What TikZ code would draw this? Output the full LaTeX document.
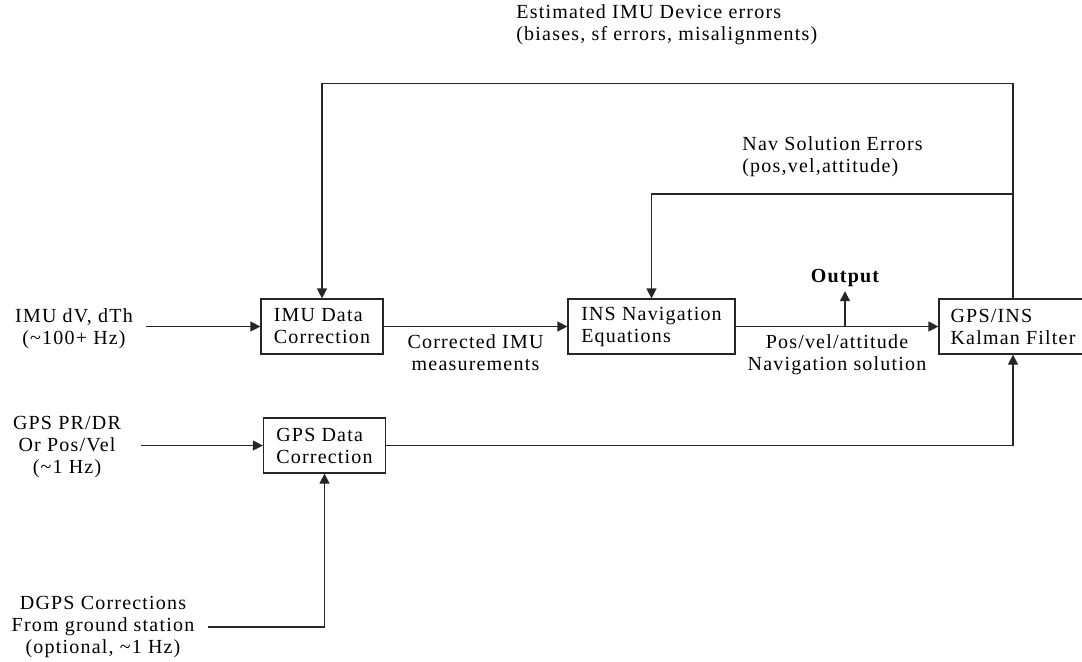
\documentclass[tikz,border=0pt]{standalone}
\usepackage{fontspec}
\setmainfont[LetterSpace=6]{Liberation Serif}
\usetikzlibrary{arrows.meta,positioning}

\begin{document}
\begin{tikzpicture}[x=0.5pt,y=-0.5pt,
  font=\fontsize{10}{11}\selectfont,
  box/.style={draw=black!85,line width=0.6pt,align=left,fill=white,inner sep=0pt,minimum width=61pt,minimum height=27.5pt},
  widebox/.style={box,minimum width=83.5pt},
  lbl/.style={align=center,inner ysep=0pt,inner xsep=6.5pt},
  arrow/.style={-{Triangle[length=5pt,width=5pt]},line width=0.6pt,draw=black!85}
]
\useasboundingbox (0,0) rectangle (1082,661);

\node[box] (imu) at (322,326.5) {IMU Data\\Correction};
\node[widebox] (ins) at (651.5,326.5) {INS Navigation\\Equations};
\node[widebox,minimum width=74pt] (kf) at (1013,326.5) {GPS/INS\\Kalman Filter};
\node[box] (gps) at (324.5,445.5) {GPS Data\\Correction};

\node[lbl] (imuin) at (74,328.5) {IMU dV, dTh\\(\textasciitilde100+ Hz)};
\node[lbl,inner xsep=10pt] (gpsin) at (67,447) {GPS PR/DR\\Or Pos/Vel\\(\textasciitilde1 Hz)};
\node[lbl] (dgps) at (103,627) {DGPS Corrections\\From ground station\\(optional, \textasciitilde1 Hz)};
\node[lbl,align=left,anchor=west,inner xsep=0pt] (imuerr) at (516,25) {Estimated IMU Device errors\\(biases, sf errors, misalignments)};
\node[lbl,align=left,anchor=west,inner xsep=0pt] (naverr) at (742,157) {Nav Solution Errors\\(pos,vel,attitude)};
\node[lbl,font=\fontsize{10}{11}\selectfont\bfseries,inner ysep=2pt] (out) at (845,278) {Output};

% inputs
\draw[arrow] (imuin.east |- imu.west) -- (imu.west);
\draw[arrow] (gpsin.east |- gps.west) -- (gps.west);
\draw[arrow] (dgps.east) -| (gps.south);

% forward path
\draw[arrow] (imu) -- node[lbl,below=4pt,inner xsep=0pt] {Corrected IMU\\measurements} (ins);
\draw[arrow] (ins) -- node[lbl,below=4pt,inner xsep=0pt] {Pos/vel/attitude\\Navigation solution} (kf);
\coordinate (tap) at (out |- ins);
\draw[arrow] (tap) -- (out);
\draw[arrow] (gps.east) -| (kf.south);

% feedback
\draw[arrow] (kf.north) -- ++(0,-215) -| (imu.north);
\coordinate (fb) at (1013,194);
\draw[arrow] (fb) -| (ins.north);
\end{tikzpicture}
\end{document}
